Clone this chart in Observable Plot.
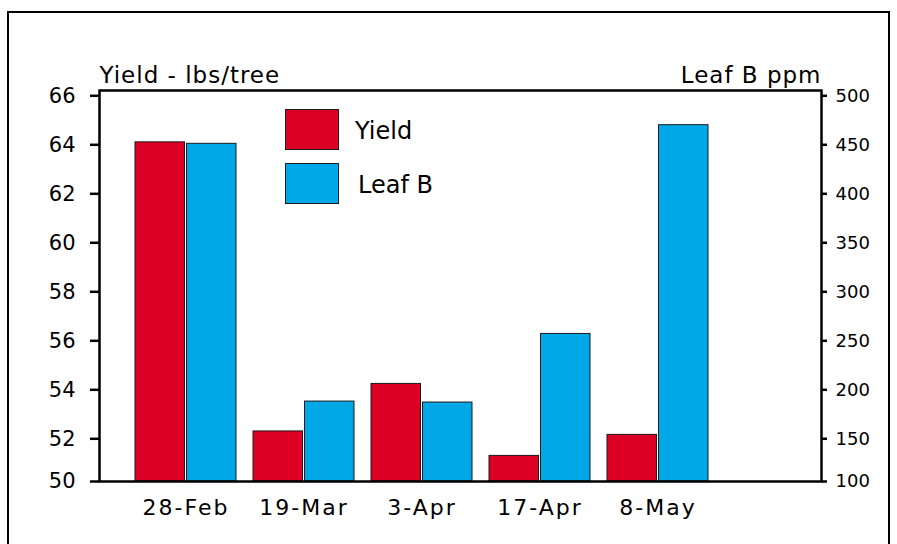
<!DOCTYPE html>
<html><head><meta charset="utf-8">
<script src="https://cdn.jsdelivr.net/npm/d3@7"></script>
<script src="https://cdn.jsdelivr.net/npm/@observablehq/plot@0.6"></script>
<style>
html,body{margin:0;padding:0;background:#fff;overflow:hidden;}
#wrap{position:relative;width:897px;height:544px;font-family:"DejaVu Sans",sans-serif;}
#chart{position:absolute;left:0;top:0;}
#legend{position:absolute;left:0;top:0;}
#border{position:absolute;left:7px;top:11px;width:883px;height:600px;border:2px solid #000;box-sizing:border-box;pointer-events:none;}
g[aria-label="x-axis tick label"] text{letter-spacing:2px;}
g[aria-label="text"] text{letter-spacing:1px;}
</style></head><body>
<div id="wrap"><div id="chart"></div><svg id="legend" width="897" height="544"></svg><div id="border"></div></div>
<script>
// ---- data ----
const dates = ["28-Feb", "19-Mar", "3-Apr", "17-Apr", "8-May"];
const yieldVals = [64.1, 52.3, 54.24, 51.2, 52.16];      // lbs/tree
const leafBVals = [451, 188, 187, 257, 470];              // ppm
const yieldTicks = [50, 52, 54, 56, 58, 60, 62, 64, 66];
const leafTicks = [100, 150, 200, 250, 300, 350, 400, 450, 500];
const seriesNames = ["Yield", "Leaf B"];
const seriesColors = ["#dc0024", "#00a8e8"];
const yieldBase = 50;
const yTitle = "Yield - lbs/tree";
const y2Title = "Leaf B ppm";

// Leaf B axis (right) is aligned to the yield axis: 100 ppm <-> 50, 500 ppm <-> 66
const toY = b => yieldBase + (b - 100) / 25;
const toLeaf = v => 100 + (v - yieldBase) * 25;

const rows = dates.map((d, i) => ({date: d, yield: yieldVals[i], leafY: toY(leafBVals[i])}));

const chart = Plot.plot({
  width: 897,
  height: 544,
  marginLeft: 99,
  marginRight: 76,
  marginTop: 90,
  marginBottom: 63,
  style: {fontFamily: "DejaVu Sans", color: "#000", background: "transparent"},
  x: {domain: dates, range: [126.5, 716.5], paddingInner: 0.148, paddingOuter: 0.074, align: 0.5},
  y: {type: "linear", domain: [50, 52, 66.2], range: [481, 438.3, 90.4]},
  marks: [
    Plot.barY(rows, {x: "date", y1: () => yieldBase, y2: "yield", fill: seriesColors[0], stroke: "#1a1a1a", strokeWidth: 1, insetRight: 51.5}),
    Plot.barY(rows, {x: "date", y1: () => yieldBase, y2: "leafY", fill: seriesColors[1], stroke: "#1a1a1a", strokeWidth: 1, insetLeft: 51.5}),
    Plot.frame({stroke: "#000", strokeWidth: 2.5}),
    Plot.axisY(yieldTicks, {anchor: "left", tickSize: 9, tickPadding: 15, strokeWidth: 2.5, fontSize: 21, tickFormat: d => String(d), label: null}),
    Plot.axisY(leafTicks.map(toY), {anchor: "right", tickSize: 5, tickPadding: 9, strokeWidth: 2.5, fontSize: 18, tickFormat: d => String(Math.round(toLeaf(d))), label: null}),
    Plot.axisX({tickSize: 0, tickPadding: 18, fontSize: 22, label: null}),
    Plot.text([yTitle], {text: d => d, frameAnchor: "top-left", textAnchor: "start", lineAnchor: "bottom", dy: -8, fontSize: 23}),
    Plot.text([y2Title], {text: d => d, frameAnchor: "top-right", textAnchor: "end", lineAnchor: "bottom", dy: -8, fontSize: 23})
  ]
});
document.getElementById("chart").appendChild(chart);

// ---- legend ----
const lg = d3.select("#legend");
const legendTops = [109.5, 163.5];
seriesNames.forEach((name, i) => {
  lg.append("rect").attr("x", 285.5).attr("y", legendTops[i]).attr("width", 53).attr("height", 40)
    .attr("fill", seriesColors[i]).attr("stroke", "#1a1a1a").attr("stroke-width", 1);
  lg.append("text").attr("x", i === 0 ? 355 : 358).attr("y", legendTops[i] + 29)
    .attr("font-family", "DejaVu Sans").attr("font-size", 24).attr("fill", "#000").text(name);
});
</script>
</body></html>
